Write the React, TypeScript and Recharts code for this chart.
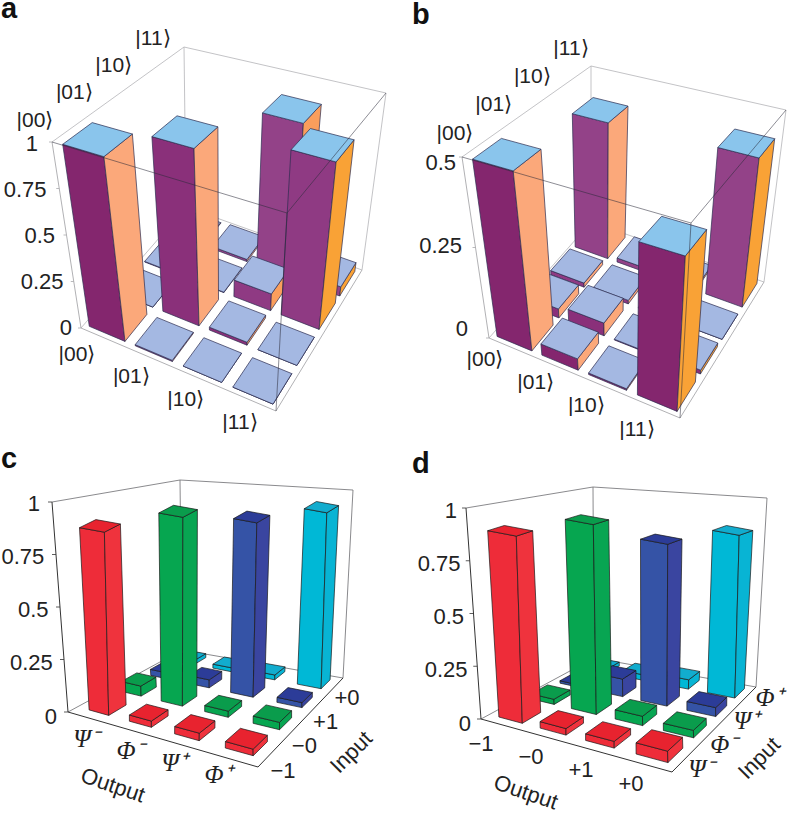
import React from 'react';
import { BarChart, Bar, XAxis, YAxis } from 'recharts';

const W = 788;
const H = 815;
const SANS = '"Liberation Sans", Arial, sans-serif';

const ketLabels = ['|00⟩', '|01⟩', '|10⟩', '|11⟩'];
const bellLabels = ['Ψ⁻', 'Φ⁻', 'Ψ⁺', 'Φ⁺'];
const spinLabels = ['−1', '−0', '+1', '+0'];

// one array per depth row, front row first, values along the output axis
const rowsA = [
  [0.98, 0.006, 0, 0],
  [0, 0.95, 0.015, 0],
  [0.003, 0.002, 0.09, 0.89],
  [0.004, 0.012, 0.87, 0.05],
];
const rowsB = [
  [0.49, 0.03, 0.004, 0.4],
  [0.025, 0.035, 0.002, 0.01],
  [0.012, 0.01, 0, 0],
  [0.41, 0.012, 0.006, 0.42],
];
const rowsC = [
  [0.9, 0.03, 0.035, 0.03],
  [0.05, 0.94, 0.03, 0.035],
  [0.03, 0.04, 0.88, 0.025],
  [0.02, 0.02, 0.025, 0.9],
];
const rowsD = [
  [0.875, 0.03, 0.03, 0.05],
  [0.025, 0.93, 0.045, 0.035],
  [0.012, 0.09, 0.83, 0.045],
  [0.02, 0.03, 0.05, 0.875],
];

const ticks1 = [0, 0.25, 0.5, 0.75, 1];
const ticks05 = [0, 0.25, 0.5];

const frontShades = ['#84266e', '#8a307a', '#8f3a83', '#934288'];
const sideShades = ['#fba87a', '#fba87a', '#fa9e5c', '#f9a236'];
const rowColors = [
  { front: '#ee2c39', side: '#ef333d', top: '#e8232f' },
  { front: '#06a650', side: '#08a552', top: '#0a9c4c' },
  { front: '#3553a6', side: '#3a45a0', top: '#2c3c98' },
  { front: '#00b8d6', side: '#08b4d4', top: '#12acce' },
];

type Pt = [number, number];

// maps the unit square onto a four-cornered floor or lid
function makeHomography(p: Pt[]) {
  const [[x0, y0], [x1, y1], [x2, y2], [x3, y3]] = p;
  const dx1 = x1 - x2, dx2 = x3 - x2, sx = x0 - x1 + x2 - x3;
  const dy1 = y1 - y2, dy2 = y3 - y2, sy = y0 - y1 + y2 - y3;
  const den = dx1 * dy2 - dx2 * dy1;
  const g = (sx * dy2 - dx2 * sy) / den;
  const h = (dx1 * sy - sx * dy1) / den;
  const a = x1 - x0 + g * x1, b = x3 - x0 + h * x3;
  const d = y1 - y0 + g * y1, e = y3 - y0 + h * y3;
  return (u: number, v: number): Pt => {
    const w = g * u + h * v + 1;
    return [(a * u + b * v + x0) / w, (d * u + e * v + y0) / w];
  };
}

const lerp = (p: Pt, q: Pt, t: number): Pt => [p[0] + (q[0] - p[0]) * t, p[1] + (q[1] - p[1]) * t];
const pts = (list: Pt[]) => list.map((p) => `${p[0].toFixed(1)},${p[1].toFixed(1)}`).join(' ');
const moved = (quad: Pt[], dx: number, dy: number) => quad.map((p) => [p[0] + dx, p[1] + dy] as Pt);

function makeTable(xLabels: string[], depthLabels: string[], rows: number[][]) {
  return xLabels.map((label, i) => ({
    label,
    depth: depthLabels[i],
    floor: 0,
    r0: rows[0][i],
    r1: rows[1][i],
    r2: rows[2][i],
    r3: rows[3][i],
  }));
}

function Panel({ cfg }: { cfg: any }) {
  // the bars sit slightly off the drawn frame in the reference
  const floorAt = makeHomography(moved(cfg.floor, cfg.floorShift[0], cfg.floorShift[1]));
  const lidAt = makeHomography(cfg.barLid || cfg.lid);
  const project = (u: number, v: number, z: number) => lerp(floorAt(u, v), lidAt(u, v), z);
  const barSize = (W / 4) * cfg.fillU;
  const table = makeTable(cfg.xLabels, cfg.depthLabels, cfg.rows);

  const seg = (a: Pt, b: Pt, key: string, stroke: string, sw: number, op = 1) => (
    <line key={key} x1={a[0]} y1={a[1]} x2={b[0]} y2={b[1]} stroke={stroke} strokeWidth={sw} strokeOpacity={op} />
  );

  const FrameRear = (p: any) => {
    if (p.index !== 0) return <g />;
    const [l, b, r, k] = cfg.floor as Pt[];
    const [lt, , rt, kt] = cfg.lid as Pt[];
    const c = cfg.frameRear;
    return (
      <g>
        {seg(l, k, 'a', c, 0.8)}
        {seg(k, r, 'b', c, 0.8)}
        {seg(k, kt, 'c', c, 0.8)}
        {seg(lt, kt, 'd', c, 0.8)}
        {seg(kt, rt, 'e', c, 0.8)}
        {seg(r, rt, 'f', c, 0.8)}
        {seg(l, lt, 'g', cfg.frameEdge, cfg.edgeWidth)}
        {seg(l, b, 'h', cfg.frameEdge, cfg.edgeWidth)}
        {seg(b, r, 'i', cfg.frameEdge, cfg.edgeWidth)}
      </g>
    );
  };

  const FrameFront = (p: any) => {
    if (p.index !== 0) return <g />;
    const [, b] = cfg.floor as Pt[];
    const [lt, bt, rt] = cfg.lid as Pt[];
    return (
      <g>
        {cfg.box && seg(lt, bt, 'a', '#2a2a3a', 0.9, 0.6)}
        {cfg.box && seg(bt, rt, 'b', '#2a2a3a', 0.9, 0.6)}
        {cfg.box && seg(b, bt, 'c', '#2a2a3a', 0.9, 0.6)}
        <text x={cfg.letter[0]} y={cfg.letter[1]} fontFamily={SANS} fontWeight={700} fontSize={29} fill="#111">
          {cfg.letter[2]}
        </text>
        {cfg.names.map((n: any) => (
          <text
            key={n[0]}
            x={n[1]}
            y={n[2]}
            fontFamily={SANS}
            fontSize={22}
            fill="#222"
            textAnchor="middle"
            dominantBaseline="central"
            transform={`rotate(${n[3]} ${n[1]} ${n[2]})`}
          >
            {n[0]}
          </text>
        ))}
      </g>
    );
  };

  const rowShape = (v: number) => (p: any) => {
    const u0 = p.x / W;
    const u1 = (p.x + p.width) / W;
    const v0 = (v + 0.5) / 4 - cfg.fillV / 8;
    const v1 = (v + 0.5) / 4 + cfg.fillV / 8;
    const z = p.height / H;
    const col = p.index;
    const colors = cfg.mono
      ? {
          front: frontShades[v],
          side: sideShades[col],
          top: z > 0.3 ? '#8ac5ec' : '#a4b8e2',
        }
      : rowColors[v];
    const edge = { stroke: cfg.barEdge, strokeWidth: 0.7, strokeLinejoin: 'round' as const };
    return (
      <g>
        <polygon
          points={pts([project(u0, v0, 0), project(u1, v0, 0), project(u1, v0, z), project(u0, v0, z)])}
          fill={colors.front}
          {...edge}
        />
        <polygon
          points={pts([project(u1, v0, 0), project(u1, v1, 0), project(u1, v1, z), project(u1, v0, z)])}
          fill={colors.side}
          {...edge}
        />
        <polygon
          points={pts([project(u0, v0, z), project(u1, v0, z), project(u1, v1, z), project(u0, v1, z)])}
          fill={colors.top}
          {...edge}
        />
      </g>
    );
  };

  const labelTick = (line: Pt[], size: number) => (p: any) => {
    const t = (p.x / W - 0.125) / 0.75;
    const [x, y] = lerp(line[0], line[1], t);
    const greek = /[ΨΦ]/.test(String(p.payload.value));
    return (
      <text
        x={x}
        y={y}
        fontFamily={greek ? '"Liberation Serif", serif' : SANS}
        fontStyle={greek ? 'italic' : 'normal'}
        fontSize={greek ? size + 3 : size}
        fill="#222"
        textAnchor="middle"
        dominantBaseline="central"
      >
        {p.payload.value}
      </text>
    );
  };

  const valueTick = (p: any) => {
    const z = 1 - p.y / H;
    const [x, y] = lerp(cfg.yLine[0], cfg.yLine[1], z);
    const [ex, ey] = lerp(cfg.floor[0], cfg.lid[0], z);
    return (
      <g>
        <line x1={ex} y1={ey} x2={ex - cfg.tickLen} y2={ey} stroke={cfg.frameEdge} strokeWidth={0.8} />
        <text x={x} y={y} fontFamily={SANS} fontSize={22} fill="#222" textAnchor="end" dominantBaseline="central">
          {p.payload.value}
        </text>
      </g>
    );
  };

  return (
    <div style={{ position: 'absolute', left: 0, top: 0 }}>
      <BarChart
        width={W}
        height={H}
        data={table}
        margin={{ top: 0, right: 0, bottom: 0, left: 0 }}
        barSize={barSize}
        barGap={-barSize}
      >
        <XAxis
          dataKey="label"
          mirror
          height={1}
          axisLine={false}
          tickLine={false}
          interval={0}
          tick={labelTick(cfg.xLine, cfg.labelSize)}
        />
        <XAxis
          xAxisId="depth"
          dataKey="depth"
          mirror
          height={1}
          axisLine={false}
          tickLine={false}
          interval={0}
          tick={labelTick(cfg.depthLine, cfg.labelSize)}
        />
        <YAxis
          mirror
          width={1}
          type="number"
          domain={[0, cfg.ticks[cfg.ticks.length - 1]]}
          ticks={cfg.ticks}
          interval={0}
          axisLine={false}
          tickLine={false}
          tick={valueTick}
        />
        <Bar dataKey="floor" xAxisId="depth" isAnimationActive={false} shape={FrameRear} />
        {[3, 2, 1, 0].map((v) => (
          <Bar key={v} dataKey={`r${v}`} isAnimationActive={false} shape={rowShape(v)} />
        ))}
        <Bar dataKey="floor" xAxisId="depth" isAnimationActive={false} shape={FrameFront} />
      </BarChart>
    </div>
  );
}

const panelA = {
  rows: rowsA,
  xLabels: ketLabels,
  depthLabels: ketLabels,
  ticks: ticks1,
  mono: true,
  box: true,
  fillU: 0.78,
  fillV: 0.78,
  floorShift: [0, 0],
  floor: [[81, 328], [276, 411], [362, 270], [186, 207]],
  lid: [[52, 142], [287, 213], [386, 93], [184, 47]],
  xLine: [[77, 353], [240, 421]],
  depthLine: [[35, 119], [153, 37]],
  yLine: [[72, 327], [38, 143]],
  names: [],
  letter: [1, 18, 'a'],
  frameRear: '#b4b4b8',
  frameEdge: '#a8a8ac',
  edgeWidth: 0.9,
  barEdge: '#2c2c50',
  tickLen: 3,
  labelSize: 21,
};

const panelB = {
  rows: rowsB,
  xLabels: ketLabels,
  depthLabels: ketLabels,
  ticks: ticks05,
  mono: true,
  box: true,
  fillU: 0.78,
  fillV: 0.78,
  floorShift: [0, 0],
  floor: [[489, 338], [680, 418], [764, 282], [591, 222]],
  lid: [[462, 157], [691, 223], [786, 110], [591, 66]],
  xLine: [[485, 358], [637, 428]],
  depthLine: [[455, 132], [571, 47]],
  yLine: [[468, 328], [456, 162]],
  names: [],
  letter: [412, 24, 'b'],
  frameRear: '#b4b4b8',
  frameEdge: '#a8a8ac',
  edgeWidth: 0.9,
  barEdge: '#2c2c50',
  tickLen: 3,
  labelSize: 21,
};

const panelC = {
  rows: rowsC,
  xLabels: bellLabels,
  depthLabels: spinLabels,
  ticks: ticks1,
  mono: false,
  box: false,
  fillU: 0.5,
  fillV: 0.52,
  floorShift: [3, 0],
  floor: [[68, 712], [258, 767], [343, 678], [182, 650]],
  lid: [[52, 502], [260, 538], [353, 490], [180, 480]],
  barLid: [[58, 509], [258, 543], [356, 485], [176, 452]],
  xLine: [[86, 738], [218, 774]],
  depthLine: [[283, 770], [347, 697]],
  yLine: [[57, 716], [40, 503]],
  names: [['Output', 113, 785, 19], ['Input', 351, 752, -45]],
  letter: [1, 468, 'c'],
  frameRear: '#6c6c70',
  frameEdge: '#333',
  edgeWidth: 1,
  barEdge: '#1a1a1a',
  tickLen: 4,
  labelSize: 22,
};

const panelD = {
  rows: rowsD,
  xLabels: spinLabels,
  depthLabels: bellLabels,
  ticks: ticks1,
  mono: false,
  box: false,
  fillU: 0.58,
  fillV: 0.56,
  floorShift: [2, 0],
  floor: [[481, 719], [672, 772], [756, 687], [594, 658]],
  lid: [[466, 508], [675, 545], [767, 498], [593, 487]],
  barLid: [[469, 504], [666, 539], [769, 508], [583, 473]],
  xLine: [[481, 743], [631, 783]],
  depthLine: [[701, 768], [769, 697]],
  yLine: [[471, 723], [457, 510]],
  names: [['Output', 526, 792, 19], ['Input', 759, 758, -45]],
  letter: [412, 473, 'd'],
  frameRear: '#6c6c70',
  frameEdge: '#333',
  edgeWidth: 1,
  barEdge: '#1a1a1a',
  tickLen: 4,
  labelSize: 22,
};

export default function App() {
  return (
    <div style={{ position: 'absolute', left: 0, top: 0, width: W, height: H, background: '#fff', overflow: 'hidden' }}>
      <Panel cfg={panelA} />
      <Panel cfg={panelB} />
      <Panel cfg={panelC} />
      <Panel cfg={panelD} />
    </div>
  );
}
